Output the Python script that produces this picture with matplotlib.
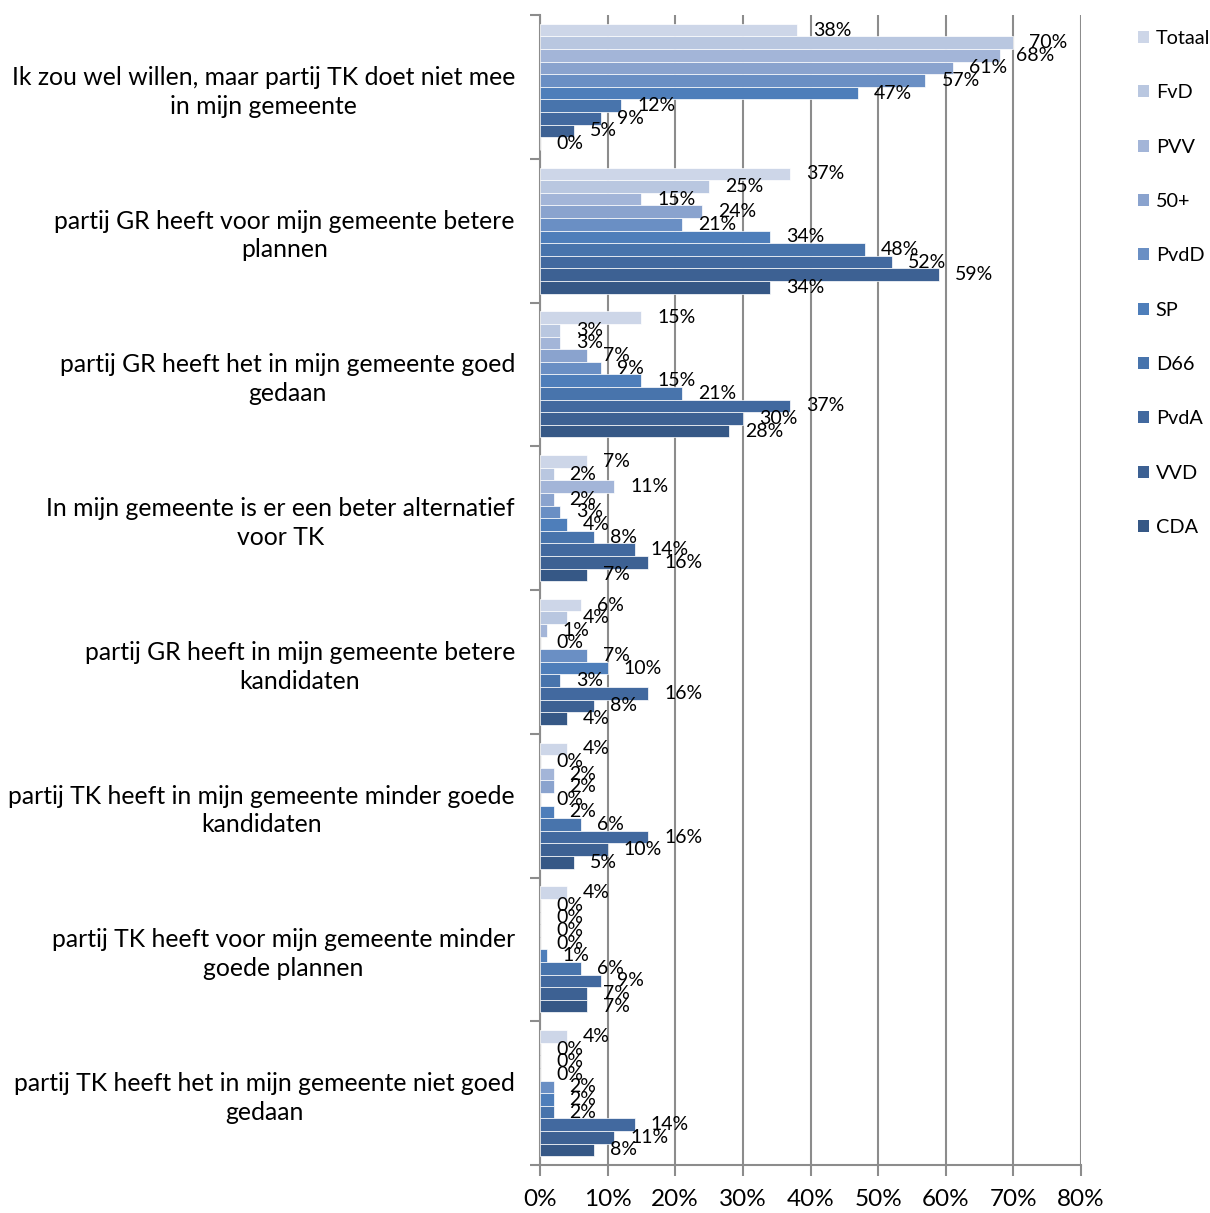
import matplotlib
matplotlib.use("Agg")
import matplotlib.pyplot as plt
from matplotlib.patches import Patch
import numpy as np

plt.rcParams['font.family'] = ['Lato', 'DejaVu Sans']

# categories (top to bottom)
categories = [
    "Ik zou wel willen, maar partij TK doet niet mee\nin mijn gemeente",
    "partij GR heeft voor mijn gemeente betere\nplannen",
    "partij GR heeft het in mijn gemeente goed\ngedaan",
    "In mijn gemeente is er een beter alternatief\nvoor TK",
    "partij GR heeft in mijn gemeente betere\nkandidaten",
    "partij TK heeft in mijn gemeente minder goede\nkandidaten",
    "partij TK heeft voor mijn gemeente minder\ngoede plannen",
    "partij TK heeft het in mijn gemeente niet goed\ngedaan",
]

series = ["Totaal", "FvD", "PVV", "50+", "PvdD", "SP", "D66", "PvdA", "VVD", "CDA"]

# values in % per series, one value per category
totaal = [38, 37, 15, 7, 6, 4, 4, 4]
fvd = [70, 25, 3, 2, 4, 0, 0, 0]
pvv = [68, 15, 3, 11, 1, 2, 0, 0]
plus50 = [61, 24, 7, 2, 0, 2, 0, 0]
pvdd = [57, 21, 9, 3, 7, 0, 0, 2]
sp = [47, 34, 15, 4, 10, 2, 1, 2]
d66 = [12, 48, 21, 8, 3, 6, 6, 2]
pvda = [9, 52, 37, 14, 16, 16, 9, 14]
vvd = [5, 59, 30, 16, 8, 10, 7, 11]
cda = [0, 34, 28, 7, 4, 5, 7, 8]

values = [totaal, fvd, pvv, plus50, pvdd, sp, d66, pvda, vvd, cda]

colors = ["#CDD6E8", "#B9C7E0", "#A3B5D8", "#8AA3CE", "#6A8FC4",
          "#4E7EBA", "#4874AC", "#42699F", "#3D6193", "#365886"]

fig = plt.figure(figsize=(12.1, 12.13), dpi=100)
ax = fig.add_axes([540 / 1210, 48 / 1213, 541 / 1210, 1150 / 1213])

n = len(series)
h = 0.877 / n
y = np.arange(len(categories))
for j, (name, vals) in enumerate(zip(series, values)):
    pos = y + (j - (n - 1) / 2) * h
    ax.barh(pos, vals, height=h, color=colors[j], edgecolor="white",
            linewidth=0.5, label=name, zorder=3)
    for yy, v in zip(pos, vals):
        ax.annotate(f"{v}%", (v, yy), xytext=(16, 0), textcoords="offset pixels",
                    ha="left", va="center", fontsize=14, color="black", zorder=4)

ax.set_xlim(0, 80)
ax.set_ylim(len(categories) - 0.5, -0.5)
ax.set_xticks(np.arange(0, 81, 10))
ax.set_xticklabels([f"{t}%" for t in range(0, 81, 10)], fontsize=17.5)
ax.xaxis.grid(True, color="#8C8C8C", linewidth=1.5, zorder=0)

ax.set_yticks(np.arange(-0.5, len(categories)))
ax.set_yticklabels([])
ax.set_yticks(y, minor=True)
ax.set_yticklabels(categories, minor=True, fontsize=17.8, multialignment="center",
                   linespacing=1.3)
ax.tick_params(axis="y", which="minor", length=0, pad=18)
ax.tick_params(axis="y", which="major", length=7, width=1.5, color="#8C8C8C")
ax.tick_params(axis="x", length=8, width=1.5, color="#8C8C8C", pad=9)

for s in ["top", "right"]:
    ax.spines[s].set_visible(False)
for s in ["left", "bottom"]:
    ax.spines[s].set_color("#8C8C8C")
    ax.spines[s].set_linewidth(1.5)

handles = [Patch(facecolor=c, edgecolor="none") for c in colors]
fig.legend(handles, series, loc="upper left", bbox_to_anchor=(1130 / 1210, 1 - 22 / 1213),
           frameon=False, fontsize=14.3, handlelength=0.55, handleheight=0.55,
           handletextpad=0.35, labelspacing=1.88, borderaxespad=0)

fig.savefig("out.png", dpi=100)
